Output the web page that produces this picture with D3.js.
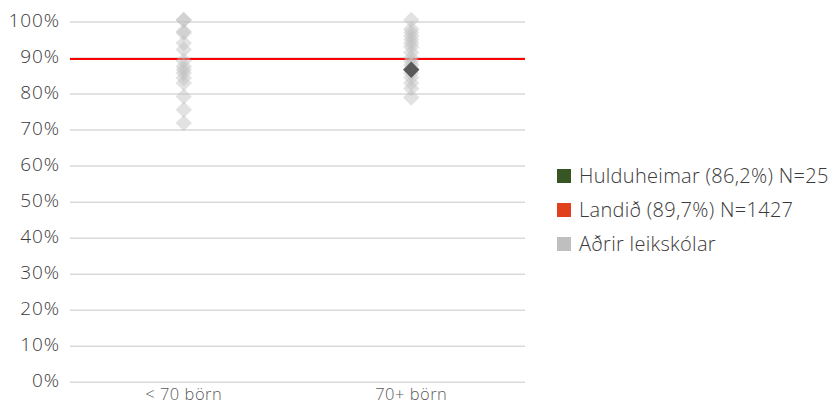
<!DOCTYPE html>
<html><head><meta charset="utf-8">
<script src="https://cdn.jsdelivr.net/npm/d3@7"></script>
<style>body{margin:0;background:#fff;} svg{display:block;font-family:"Open Sans",sans-serif;}</style>
</head><body><div id="chart"></div>
<script>
const categories = ["< 70 börn", "70+ börn"];
const othersSmall = [100, 100, 96.8, 96.4, 93.6, 91.8, 88.7, 87.1, 86.2, 85.3, 83.9, 82.5, 78.8, 75.1, 71.4];
const othersLarge = [100, 97.5, 96.5, 95.5, 94.5, 93.5, 92.5, 91, 89.5, 88.5, 87.5, 86.5, 85.2, 84, 82.5, 81, 78.5];
const schoolCategory = "70+ börn";
const schoolValue = 86.2;
const nationalValue = 89.7;
const yTicks = [0, 10, 20, 30, 40, 50, 60, 70, 80, 90, 100];
const legendLabels = ["Hulduheimar (86,2%) N=25", "Landið (89,7%) N=1427", "Aðrir leikskólar"];
const legendColors = ["#375623", "#e0401c", "#bfbfbf"];

const W = 834, H = 409;
const svg = d3.select("#chart").append("svg").attr("width", W).attr("height", H);
const x = d3.scaleBand().domain(categories).range([70, 525]);
const y = d3.scaleLinear().domain([0, 100]).range([382.3, 22]);

svg.append("g").selectAll("line").data(yTicks).join("line")
  .attr("x1", 70).attr("x2", 525)
  .attr("y1", d => y(d)).attr("y2", d => y(d))
  .attr("stroke", "#d9d9d9").attr("stroke-width", 1.5);

const yAxis = d3.axisLeft(y).tickValues(yTicks).tickFormat(d => d + "%").tickSize(0).tickPadding(0);
const ya = svg.append("g").attr("transform", "translate(60,-2)").call(yAxis);
ya.select(".domain").remove();
ya.selectAll("text").attr("font-size", 19).attr("letter-spacing", "0.9px").attr("fill", "#3a3a3a")
  .attr("font-family", "'Open Sans', sans-serif").attr("font-weight", 300);

const xAxis = d3.axisBottom(x).tickSize(0).tickPadding(0);
const xa = svg.append("g").attr("transform", "translate(0,388)").call(xAxis);
xa.select(".domain").remove();
xa.selectAll("text").attr("font-size", 16.5).attr("letter-spacing", "0.5px").attr("fill", "#595959")
  .attr("font-family", "'Open Sans', sans-serif").attr("font-weight", 300);

svg.append("line").attr("x1", 70).attr("x2", 525)
  .attr("y1", y(nationalValue)).attr("y2", y(nationalValue))
  .attr("stroke", "#ff0000").attr("stroke-width", 2);

const diamond = d3.symbol().type(d3.symbolDiamond2).size(170);
const pts = [
  ...othersSmall.map(v => ({c: categories[0], v})),
  ...othersLarge.map(v => ({c: categories[1], v}))
];
svg.append("g").selectAll("path").data(pts).join("path")
  .attr("d", diamond)
  .attr("transform", d => `translate(${x(d.c) + x.bandwidth()/2},${y(d.v) - 2})`)
  .attr("fill", "#bfbfbf").attr("fill-opacity", 0.45);

svg.append("path").attr("d", diamond)
  .attr("transform", `translate(${x(schoolCategory) + x.bandwidth()/2},${y(schoolValue) - 2})`)
  .attr("fill", "#595959");

const lg = svg.append("g");
legendLabels.forEach((t, i) => {
  const yy = 176 + i * 34;
  lg.append("rect").attr("x", 557).attr("y", yy - 7).attr("width", 14).attr("height", 14).attr("fill", legendColors[i]);
  lg.append("text").attr("x", 579).attr("y", yy).attr("dy", "0.35em")
    .attr("font-size", 20).attr("letter-spacing", "0.3px").attr("font-weight", 300)
    .attr("fill", "#3a3a3a").text(t);
});
</script></body></html>
